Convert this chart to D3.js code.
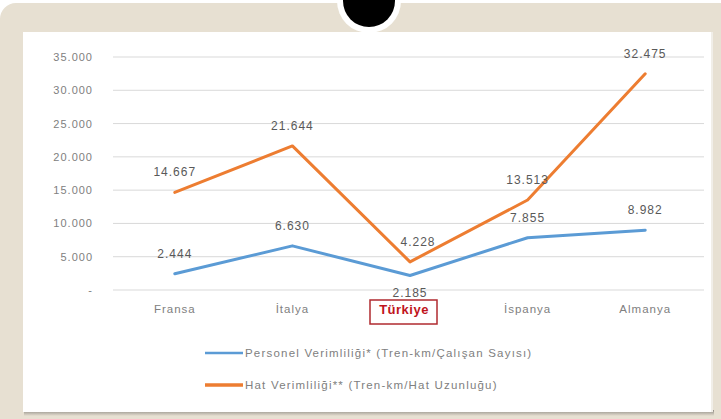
<!DOCTYPE html>
<html>
<head>
<meta charset="utf-8">
<script src="https://cdn.jsdelivr.net/npm/d3@7"></script>
<style>
  html, body { margin: 0; padding: 0; background: #ffffff; }
  svg { display: block; }
</style>
</head>
<body>
<svg id="chart" width="721" height="419"></svg>
<script>
// Demiryolu verimlilik karşılaştırması
const categories = ["Fransa", "İtalya", "Türkiye", "İspanya", "Almanya"];
const personelVerimliligi = [2444, 6630, 2185, 7855, 8982];
const hatVerimliligi = [14667, 21644, 4228, 13513, 32475];
const yTicks = [0, 5000, 10000, 15000, 20000, 25000, 30000, 35000];
const seriesNames = [
  "Personel Verimliliği* (Tren-km/Çalışan Sayısı)",
  "Hat Verimliliği** (Tren-km/Hat Uzunluğu)"
];
const highlighted = "Türkiye";

const svg = d3.select("#chart");
const W = 721, H = 419;
const FONT = "Liberation Sans, Arial, sans-serif";

// Turkish number style: 35.000
const fmt = v => v === 0 ? "-" : d3.format(",")(v).replace(/,/g, ".");

// Frame background
svg.append("rect").attr("x", 0).attr("y", 0).attr("width", W).attr("height", H).attr("fill", "#ffffff");
svg.append("rect").attr("x", 0).attr("y", 3).attr("width", W + 20).attr("height", H + 20)
  .attr("rx", 16).attr("fill", "#e7e0d2");

// Panel shadow and panel
const defs = svg.append("defs");
const sh = defs.append("linearGradient").attr("id", "shadow").attr("x1", 0).attr("x2", 0).attr("y1", 0).attr("y2", 1);
sh.append("stop").attr("offset", "0%").attr("stop-color", "#8f8b84");
sh.append("stop").attr("offset", "100%").attr("stop-color", "#e7e0d2");
svg.append("rect").attr("x", 24).attr("y", 410).attr("width", 690).attr("height", 6).attr("fill", "url(#shadow)");
svg.append("rect").attr("x", 23).attr("y", 32).attr("width", 690).attr("height", 380).attr("fill", "#ffffff");
svg.append("rect").attr("x", 711).attr("y", 32).attr("width", 2).attr("height", 380).attr("fill", "#f1eee8");

// Binder hole at the top
svg.append("circle").attr("cx", 369).attr("cy", 1).attr("r", 32).attr("fill", "#ffffff");
svg.append("circle").attr("cx", 369).attr("cy", 1).attr("r", 26).attr("fill", "#000000");

// Scales
const x = d3.scaleBand().domain(categories).range([116, 704]);
const y = d3.scaleLinear().domain([0, 35000]).range([290, 57]);
const cx = c => x(c) + x.bandwidth() / 2;

// Gridlines
svg.append("g").selectAll("line").data(yTicks).join("line")
  .attr("x1", 113).attr("x2", 704)
  .attr("y1", d => y(d)).attr("y2", d => y(d))
  .attr("stroke", "#d9d9d9").attr("stroke-width", 1);

// Y axis labels
const yAxis = d3.axisLeft(y).tickValues(yTicks).tickFormat(fmt).tickSize(0).tickPadding(0);
const yg = svg.append("g").attr("transform", "translate(93,0)").call(yAxis);
yg.select(".domain").remove();
yg.selectAll("text").attr("font-family", FONT)
  .attr("font-size", 11).attr("letter-spacing", 1).attr("fill", "#808080");

// Highlighted country box (drawn under the axis labels)
const hx = cx(highlighted);
svg.append("rect")
  .attr("x", hx - 40).attr("y", 300).attr("width", 67).attr("height", 24)
  .attr("fill", "#ffffff").attr("stroke", "#b02a2f").attr("stroke-width", 1.5);

// X axis labels
const xAxis = d3.axisBottom(x).tickSize(0).tickPadding(0);
const xg = svg.append("g").attr("transform", "translate(0,305)").call(xAxis);
xg.select(".domain").remove();
xg.selectAll("text").attr("font-family", FONT)
  .attr("font-size", 11.5).attr("letter-spacing", 1).attr("fill", "#808080");
xg.selectAll("text").filter(d => d === highlighted)
  .attr("fill", "#c0141c").attr("font-weight", "bold").attr("font-size", 13)
  .attr("letter-spacing", 0.5).attr("dx", -6);

// Lines
const series = [
  { name: seriesNames[0], values: personelVerimliligi, color: "#5b9bd5" },
  { name: seriesNames[1], values: hatVerimliligi, color: "#ed7d31" }
];
const line = d3.line().x(d => cx(d.c)).y(d => y(d.v));
series.forEach(s => {
  const pts = categories.map((c, i) => ({ c, v: s.values[i] }));
  svg.append("path").datum(pts)
    .attr("d", line).attr("fill", "none")
    .attr("stroke", s.color).attr("stroke-width", 3)
    .attr("stroke-linejoin", "round").attr("stroke-linecap", "round");
});

// Data labels
series.forEach((s, si) => {
  categories.forEach((c, i) => {
    const v = s.values[i];
    const below = si === 0 && c === highlighted;
    svg.append("text")
      .attr("x", cx(c) + (si === 1 && c === highlighted ? 8 : 0))
      .attr("y", y(v) + (below ? 22 : -16))
      .attr("text-anchor", "middle")
      .attr("font-family", FONT)
      .attr("font-size", 12).attr("letter-spacing", 1).attr("fill", "#595959")
      .text(fmt(v));
  });
});

// Legend
series.forEach((s, i) => {
  const ly = 353 + i * 32;
  svg.append("line").attr("x1", 205).attr("x2", 243).attr("y1", ly).attr("y2", ly)
    .attr("stroke", s.color).attr("stroke-width", i === 0 ? 2.5 : 3.5);
  svg.append("text").attr("x", 245).attr("y", ly + 4)
    .attr("font-family", FONT)
    .attr("font-size", 11.5).attr("letter-spacing", 1.2).attr("fill", "#808080")
    .text(s.name);
});
</script>
</body>
</html>
